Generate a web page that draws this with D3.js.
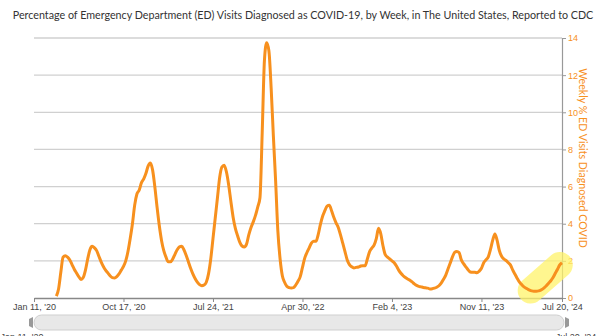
<!DOCTYPE html>
<html><head><meta charset="utf-8">
<script src="https://cdn.jsdelivr.net/npm/d3@7"></script>
<style>body{margin:0;background:#fff}svg{display:block}</style>
</head><body><svg id="c" width="600" height="336"></svg>
<script>
const chartTitle = "Percentage of Emergency Department (ED) Visits Diagnosed as COVID-19, by Week, in The United States, Reported to CDC";
const yAxisTitle = "Weekly % ED Visits Diagnosed COVID";
const startDate = "2020-01-11";
const pctValues = [
 null,null,null,null,null,null,null,null,null,null,
 0.1,0.5,1.4,2.2,2.28,2.2,2.05,1.8,1.55,1.35,
 1.15,1.0,1.1,1.5,2.1,2.6,2.78,2.7,2.55,2.25,
 1.95,1.7,1.5,1.35,1.2,1.1,1.08,1.15,1.3,1.5,
 1.7,2.0,2.5,3.2,4.0,5.0,5.6,5.8,6.2,6.4,
 6.7,7.1,7.27,6.9,6.0,4.9,3.9,3.1,2.55,2.2,
 1.95,1.95,2.1,2.35,2.6,2.75,2.78,2.6,2.3,1.95,
 1.6,1.3,1.05,0.85,0.72,0.66,0.7,0.85,1.3,2.1,
 3.2,4.3,5.4,6.5,7.05,7.15,6.8,6.1,5.2,4.35,
 3.75,3.35,3.0,2.8,2.75,2.9,3.4,3.8,4.1,4.45,
 4.9,5.4,8.9,12.8,13.75,13.3,11.3,8.7,6.3,3.6,
 2.1,1.2,0.85,0.63,0.56,0.54,0.56,0.7,0.9,1.15,
 1.65,2.15,2.45,2.7,2.95,3.05,3.05,3.4,3.95,4.4,
 4.7,4.95,5.0,4.7,4.35,4.05,3.8,3.4,2.95,2.5,
 2.05,1.8,1.68,1.62,1.65,1.67,1.72,1.74,1.74,2.1,
 2.5,2.69,2.85,3.2,3.75,3.45,2.8,2.33,2.2,2.1,
 2.0,1.9,1.72,1.5,1.33,1.2,1.1,1.02,0.96,0.87,
 0.76,0.68,0.63,0.6,0.57,0.55,0.53,0.49,0.5,0.53,
 0.58,0.66,0.8,1.0,1.22,1.55,1.87,2.2,2.46,2.51,
 2.45,2.05,1.85,1.68,1.52,1.4,1.38,1.38,1.36,1.45,
 1.6,1.9,2.05,2.2,2.6,3.1,3.45,3.1,2.55,2.25,
 2.1,2.02,1.9,1.77,1.5,1.28,1.05,0.85,0.72,0.6,
 0.52,0.45,0.4,0.37,0.36,0.37,0.4,0.46,0.55,0.66,
 0.8,0.93,1.1,1.33,1.55,1.78,1.9
];
const xTickDates = ["2020-01-11","2020-10-17","2021-07-24","2022-04-30","2023-02-04","2023-11-11","2024-07-20"];
const xTickLabels = ["Jan 11, '20","Oct 17, '20","Jul 24, '21","Apr 30, '22","Feb 4, '23","Nov 11, '23","Jul 20, '24"];
const yTicks = [0,2,4,6,8,10,12,14];
const highlightWeeks = [222, 235];

const parse = d3.utcParse("%Y-%m-%d");
const t0 = parse(startDate);
const data = pctValues.map((v,i)=>({date: d3.utcDay.offset(t0, 7*i), v}));
const tickDates = xTickDates.map(parse);

const svg = d3.select("#c");
const L = 34, R = 562, T = 38, B = 298;
const x = d3.scaleUtc().domain([t0, data[data.length-1].date]).range([L, R]);
const y = d3.scaleLinear().domain([0, 14]).range([B, T]);
const orange = "#f7901e";

function fitText(sel, size, maxW) {
  sel.attr("font-size", size);
  const w = sel.node().getComputedTextLength();
  if (w > maxW) sel.attr("font-size", size * maxW / w);
  return sel;
}

// title
fitText(svg.append("text").attr("x", 303).attr("y", 19).attr("text-anchor","middle")
  .attr("font-family","Lato, Open Sans, sans-serif").attr("fill","#333").text(chartTitle), 11.2, 580);

// grid
svg.append("g").selectAll("line").data(yTicks.filter(d=>d>0)).join("line")
  .attr("x1", L).attr("x2", R).attr("y1", d=>y(d)).attr("y2", d=>y(d))
  .attr("stroke","#d0d0d0").attr("stroke-width",1.3);

// right axis
const ra = svg.append("g").attr("transform",`translate(${R},0)`)
  .call(d3.axisRight(y).tickValues(yTicks).tickSize(4).tickPadding(2).tickFormat(d3.format("d")));
ra.select(".domain").attr("stroke","#999").attr("stroke-width",1.2);
ra.selectAll(".tick line").attr("stroke","#999");
ra.selectAll("text").attr("fill", orange).attr("font-size", 9).attr("font-family","Liberation Sans, Arial, sans-serif");

fitText(svg.append("text").attr("transform","translate(579,158) rotate(90)").attr("text-anchor","middle")
  .attr("font-family","Lato, Open Sans, sans-serif").attr("fill", orange).text(yAxisTitle), 14, 180);

// bottom axis
const ba = svg.append("g").attr("transform",`translate(0,${B})`)
  .call(d3.axisBottom(x).tickValues(tickDates).tickSize(4).tickPadding(2).tickSizeOuter(0)
    .tickFormat((d,i)=>xTickLabels[i]));
ba.select(".domain").attr("stroke","#888").attr("stroke-width",1.5);
ba.selectAll(".tick line").attr("stroke","#888");
ba.selectAll("text").attr("fill","#444").attr("font-size",9).attr("font-family","Liberation Sans, Arial, sans-serif");

// highlight
const hl = highlightWeeks.map(i=>data[i]);
svg.append("path").attr("d", d3.line().x(d=>x(d.date)).y(d=>y(d.v))(hl))
  .attr("stroke","#fff36a").attr("stroke-opacity",0.75).attr("stroke-width",26)
  .attr("stroke-linecap","round").attr("fill","none");

// line
svg.append("path").datum(data)
  .attr("d", d3.line().defined(d=>d.v!=null).x(d=>x(d.date)).y(d=>y(d.v)).curve(d3.curveMonotoneX))
  .attr("fill","none").attr("stroke", orange).attr("stroke-width",3).attr("stroke-linejoin","round");

// scrollbar
svg.append("rect").attr("x",L).attr("y",315).attr("width",R-L+2).attr("height",15).attr("rx",7.5)
  .attr("fill","#e8e8e8").attr("stroke","#cfcfcf");
[[L-1,-1],[R+3,1]].forEach(([cx,dir])=>{
  svg.append("path").attr("d",`M${cx},317 L${cx+dir*4},319 L${cx+dir*4},326 L${cx},328 Z`).attr("fill","#999");
});
svg.append("text").attr("x",L-12).attr("y",340).attr("text-anchor","middle").attr("font-size",9)
  .attr("font-family","Liberation Sans, Arial, sans-serif").attr("fill","#444").text(xTickLabels[0]);
svg.append("text").attr("x",R+14).attr("y",340).attr("text-anchor","middle").attr("font-size",9)
  .attr("font-family","Liberation Sans, Arial, sans-serif").attr("fill","#444").text(xTickLabels[xTickLabels.length-1]);
</script></body></html>
